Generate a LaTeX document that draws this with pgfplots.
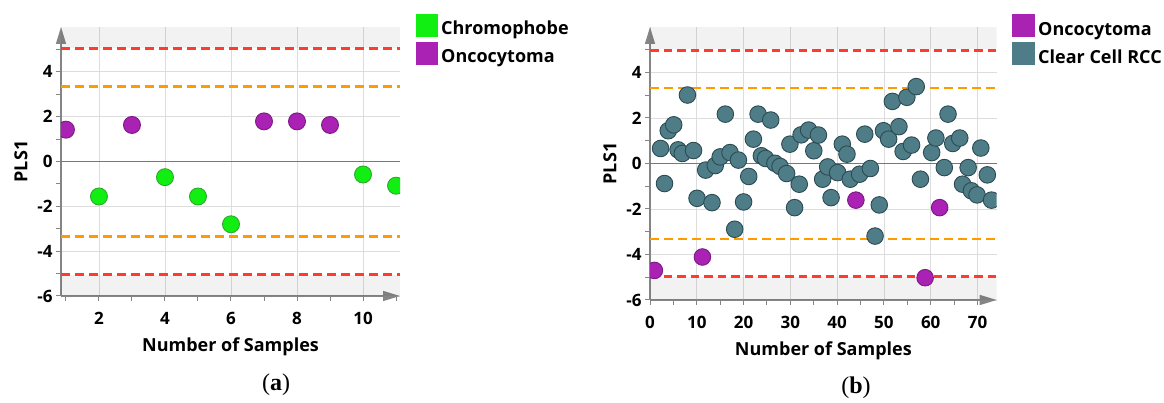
\documentclass[border=0pt]{standalone}
\usepackage{fontspec}
\setmainfont{Open Sans}
\newfontfamily\capfont{Liberation Serif}
\usepackage{pgfplots}
\pgfplotsset{compat=1.18}
\usetikzlibrary{arrows.meta}
\definecolor{grn}{HTML}{11EE11}
\definecolor{grnE}{HTML}{2EA82E}
\definecolor{pur}{HTML}{AA22B4}
\definecolor{purE}{HTML}{7A1A85}
\definecolor{tea}{HTML}{4E7D88}
\definecolor{teaE}{HTML}{2C4A52}
\definecolor{gridc}{HTML}{DDDDDD}
\definecolor{axc}{HTML}{858585}
\definecolor{redl}{HTML}{FF3B30}
\definecolor{orgl}{HTML}{FF9A00}
\pgfplotsset{
  myax/.style={
    scale only axis, clip marker paths=true,
    axis lines=left,
    axis line style={draw=axc, line width=1.3pt, -{Triangle[length=17pt,width=10pt]}},
    tick align=outside, major tick length=5pt, minor tick length=5pt,
    every tick/.style={draw=axc, line width=1pt},
    grid=major, major grid style={draw=gridc, line width=0.9pt},
    ymin=-6, ymax=6,
    ytick={-6,-4,-2,0,2,4}, yticklabels={-6,-4,-2,0,2,4},
    minor ytick={-5,-3,-1,1,3,5},
    extra y ticks={0}, extra y tick labels={},
    extra y tick style={grid=major, major grid style={draw=axc!90!black, line width=1.5pt}},
    ticklabel style={font=\fontsize{17}{20}\selectfont\bfseries},
    xticklabel style={yshift=-8pt},
    label style={font=\fontsize{18}{21}\selectfont\bfseries},
    xlabel={Number of Samples}, ylabel={PLS1},
    legend cell align=left,
    legend style={anchor=north west, draw=none, fill=none,
      inner sep=0pt, outer sep=0pt, row sep=4.3pt,
      font=\fontsize{18}{21}\selectfont\bfseries,
      nodes={inner sep=0pt, text height=12pt, text depth=3pt},
      /tikz/every odd column/.append style={column sep=3.5pt}},
  },
  band/.style={draw=none, fill=black, fill opacity=0.05, forget plot},
}
\begin{document}
\begin{tikzpicture}[x=1pt,y=1pt]
\path[use as bounding box] (0,0) rectangle (1164,403);
% ---------------- (a)
\begin{axis}[myax,
  at={(61pt,107pt)}, anchor=south west, width=339pt, height=269pt,
  xmin=0.85, xmax=11.12,
  xtick={2,4,6,8,10}, xticklabels={2,4,6,8,10},
  minor xtick={1,3,5,7,9,11},
  xlabel style={at={(axis description cs:0.5,-0.1885)}, anchor=center},
  ylabel style={at={(axis description cs:-0.118,0.5)}, anchor=center},
  legend style={at={(1.0463,1.047)}},
]
\addplot[band] coordinates {(0.85,5.05) (11.12,5.05) (11.12,6) (0.85,6)} --cycle;
\addplot[band] coordinates {(0.85,-6) (11.12,-6) (11.12,-5.05) (0.85,-5.05)} --cycle;
\addplot[forget plot, redl, line width=2.6pt, dash pattern=on 9pt off 5pt] coordinates {(0.85,5.05) (11.12,5.05)};
\addplot[forget plot, redl, line width=2.6pt, dash pattern=on 9pt off 5pt] coordinates {(0.85,-5.05) (11.12,-5.05)};
\addplot[forget plot, orgl, line width=2.6pt, dash pattern=on 9pt off 5pt] coordinates {(0.85,3.35) (11.12,3.35)};
\addplot[forget plot, orgl, line width=2.6pt, dash pattern=on 9pt off 5pt] coordinates {(0.85,-3.35) (11.12,-3.35)};
\addplot[only marks, mark=*, mark size=8.5pt, mark options={fill=grn, draw=grnE, line width=0.9pt},
  legend image code/.code={\fill[grn] (0pt,-6pt) rectangle (21.6pt,15.6pt);}]
  coordinates {(2,-1.56) (4,-0.70) (5,-1.56) (6,-2.8) (10,-0.58) (11,-1.08)};
\addlegendentry{Chromophobe}
\addplot[only marks, mark=*, mark size=8.5pt, mark options={fill=pur, draw=purE, line width=0.9pt},
  legend image code/.code={\fill[pur] (0pt,-6pt) rectangle (21.6pt,15.6pt);}]
  coordinates {(1,1.42) (3,1.63) (7,1.79) (8,1.79) (9,1.63)};
\addlegendentry{Oncocytoma}
\end{axis}
% ---------------- (b)
\begin{axis}[myax,
  at={(650pt,103pt)}, anchor=south west, width=346.7pt, height=273pt,
  xmin=0, xmax=74.1,
  xtick={0,10,...,70}, xticklabels={0,10,20,30,40,50,60,70},
  minor xtick={5,15,...,65},
  xlabel style={at={(axis description cs:0.5,-0.1857)}, anchor=center},
  ylabel style={at={(axis description cs:-0.1154,0.5)}, anchor=center},
  legend style={at={(1.045,1.046)}},
]
\addplot[band] coordinates {(0,5.05) (74.1,5.05) (74.1,6) (0,6)} --cycle;
\addplot[band] coordinates {(0,-6) (74.1,-6) (74.1,-5.0) (0,-5.0)} --cycle;
\addplot[forget plot, redl, line width=2.4pt, dash pattern=on 8.5pt off 5pt] coordinates {(0,4.97) (74.1,4.97)};
\addplot[forget plot, redl, line width=2.4pt, dash pattern=on 8.5pt off 5pt] coordinates {(0,-4.97) (74.1,-4.97)};
\addplot[forget plot, orgl, line width=2.6pt, dash pattern=on 9pt off 5pt] coordinates {(0,3.32) (74.1,3.32)};
\addplot[forget plot, orgl, line width=2.6pt, dash pattern=on 9pt off 5pt] coordinates {(0,-3.32) (74.1,-3.32)};
\addplot[only marks, mark=*, mark size=8.3pt, mark options={fill=pur, draw=purE, line width=0.9pt},
  legend image code/.code={\fill[pur] (0pt,-6pt) rectangle (22pt,16pt);}]
  coordinates {(0.94,-4.70) (11.2,-4.11) (44.0,-1.61) (58.8,-5.02) (61.9,-1.94)};
\addlegendentry{Oncocytoma}
\addplot[only marks, mark=*, mark size=8.3pt, mark options={fill=tea, draw=teaE, line width=0.9pt},
  legend image code/.code={\fill[tea] (0pt,-6pt) rectangle (22pt,16pt);}]
  table {
x y
2.26 0.66
3.1 -0.88
3.9 1.44
5.07 1.70
6.0 0.60
6.9 0.44
8.0 3.01
9.3 0.57
10.05 -1.53
11.9 -0.29
13.25 -1.72
13.95 -0.09
15.0 0.29
16.1 2.17
17.1 0.48
18.1 -2.89
18.9 0.15
20.0 -1.69
21.1 -0.57
22.1 1.07
23.1 2.17
23.8 0.34
24.7 0.22
25.8 1.91
26.7 0.01
27.8 -0.13
29.2 -0.44
29.9 0.85
30.9 -1.94
31.9 -0.91
32.3 1.26
33.9 1.47
35.0 0.56
36.0 1.25
36.9 -0.69
37.97 -0.15
38.7 -1.5
40.1 -0.40
41.1 0.85
42.1 0.41
42.8 -0.69
44.8 -0.47
45.9 1.29
47.1 -0.22
48.1 -3.19
49.0 -1.82
49.9 1.44
51.0 1.07
51.8 2.73
53.2 1.62
54.1 0.53
54.9 2.91
55.9 0.81
56.9 3.38
57.8 -0.69
60.2 0.48
61.1 1.12
62.9 -0.18
63.7 2.17
64.7 0.88
66.2 1.12
66.8 -0.91
68.0 -0.18
68.7 -1.2
69.9 -1.38
70.7 0.68
72.1 -0.50
73.0 -1.61
};
\addlegendentry{Clear Cell RCC}
\end{axis}
\node[font=\capfont\fontsize{24}{27}\selectfont, anchor=center] at (276,18) {(\textbf{a})};
\node[font=\capfont\fontsize{24}{27}\selectfont, anchor=center] at (856,15) {(\textbf{b})};
\end{tikzpicture}
\end{document}
